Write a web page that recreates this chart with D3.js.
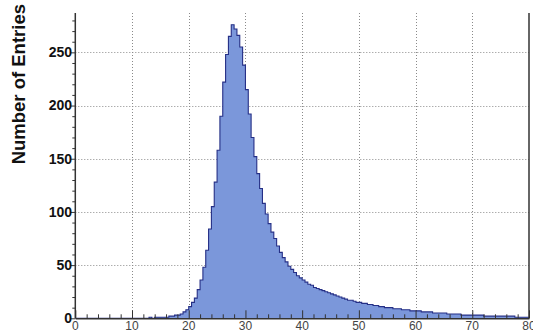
<!DOCTYPE html>
<html>
<head>
<meta charset="utf-8">
<script src="https://cdn.jsdelivr.net/npm/d3@7"></script>
<style>
  body { margin: 0; background: #fff; }
  svg { display: block; }
</style>
</head>
<body>
<div id="chart"></div>
<script>
// Histogram: 160 bins of width 0.5 from 0 to 80
const binWidth = 0.5;
const counts = [
  0,0,0,0,0,0,0,0,0,0, 0,0,0,0,0,0,0,0,0,0,   // 0 - 10
  0,0,0,0,0,0,1,0,1,1, 1,1,1,2,2,3,3,4,6,8,   // 10 - 20
  11,15,19,27,36,48,64,84,105,128, 158,190,222,248,265,276,272,266,255,238,  // 20 - 30
  215,192,170,152,136,122,108,98,89,81, 75,68,62,57,53,49,46,43,40,38,   // 30 - 40
  36,34,32,31,29,28,27,26,25,24, 23,22,21,20,19,18,17,17,16,15,   // 40 - 50
  15,14,14,13,13,12,12,11,11,10, 10,10,9,9,9,8,8,8,7,7,   // 50 - 60
  7,7,6,6,6,6,5,5,5,5, 5,4,4,4,4,4,3,3,3,3,   // 60 - 70
  3,3,3,3,2,2,2,2,2,2, 2,2,2,2,2,1,1,1,1,1    // 70 - 80
];
const xTicks = [0, 10, 20, 30, 40, 50, 60, 70, 80];
const yTicks = [0, 50, 100, 150, 200, 250];
const yLabel = "Number of Entries";

const width = 533, height = 332;
const plotLeft = 75.3, plotRight = 529, plotTop = 13, plotBottom = 318.3;

const svg = d3.select("#chart").append("svg")
  .attr("width", width)
  .attr("height", height);

const x = d3.scaleLinear().domain([0, 80]).range([plotLeft, plotRight]);
const y = d3.scaleLinear().domain([0, 287]).range([plotBottom, plotTop]);

// Grid
const grid = svg.append("g")
  .attr("stroke", "#8a8a8a")
  .attr("stroke-width", 1)
  .attr("stroke-dasharray", "1,2");

grid.selectAll(".vg")
  .data(xTicks.filter(d => d > 0 && d < 80))
  .enter().append("line")
  .attr("x1", d => Math.round(x(d)) + 0.5)
  .attr("x2", d => Math.round(x(d)) + 0.5)
  .attr("y1", plotTop)
  .attr("y2", plotBottom);

grid.selectAll(".hg")
  .data(yTicks.filter(d => d > 0))
  .enter().append("line")
  .attr("x1", plotLeft)
  .attr("x2", plotRight)
  .attr("y1", d => Math.round(y(d)) + 0.5)
  .attr("y2", d => Math.round(y(d)) + 0.5);

// Histogram
const bins = counts.map((c, i) => ({ x0: i * binWidth, v: c }));
bins.push({ x0: counts.length * binWidth, v: counts[counts.length - 1] });

const area = d3.area()
  .x(d => x(d.x0))
  .y0(y(0))
  .y1(d => y(d.v))
  .curve(d3.curveStepAfter);

const line = d3.line()
  .x(d => x(d.x0))
  .y(d => y(d.v))
  .curve(d3.curveStepAfter);

svg.append("path")
  .datum(bins)
  .attr("d", area)
  .attr("fill", "#7b97da");

svg.append("path")
  .datum(bins)
  .attr("d", line)
  .attr("fill", "none")
  .attr("stroke", "#252f86")
  .attr("stroke-width", 1.1);

// Axes
const xAxis = d3.axisBottom(x)
  .tickValues(d3.range(0, 81, 2))
  .tickSize(0)
  .tickFormat("");

const gx = svg.append("g")
  .attr("transform", `translate(0, ${plotBottom})`)
  .call(xAxis);
gx.select(".domain").attr("stroke", "#333").attr("stroke-width", 1.5);
gx.selectAll(".tick line")
  .attr("stroke", "#333")
  .attr("y2", d => d % 10 === 0 ? -8 : -4);

svg.selectAll(".xl")
  .data(xTicks)
  .enter().append("text")
  .attr("x", d => x(d))
  .attr("y", 330)
  .attr("text-anchor", "middle")
  .attr("font-family", "Liberation Sans, Arial, sans-serif")
  .attr("font-size", 12)
  .attr("fill", "#444")
  .text(d => d);

const yAxis = d3.axisLeft(y)
  .tickValues(d3.range(0, 281, 10))
  .tickSize(0)
  .tickFormat("");

const gy = svg.append("g")
  .attr("transform", `translate(${plotLeft}, 0)`)
  .call(yAxis);
gy.select(".domain").attr("stroke", "#333").attr("stroke-width", 1.5)
  .attr("d", `M0,${plotTop}V${plotBottom}`);
gy.selectAll(".tick line")
  .attr("stroke", "#333")
  .attr("x2", d => d % 50 === 0 ? -5 : -3);

svg.selectAll(".yl")
  .data(yTicks)
  .enter().append("text")
  .attr("x", 72)
  .attr("y", d => y(d))
  .attr("dy", "0.35em")
  .attr("text-anchor", "end")
  .attr("font-family", "Liberation Sans, Arial, sans-serif")
  .attr("font-weight", "bold")
  .attr("font-size", 14)
  .attr("fill", "#111")
  .text(d => d);

// Right frame line
svg.append("line")
  .attr("x1", plotRight).attr("x2", plotRight)
  .attr("y1", plotTop).attr("y2", plotBottom)
  .attr("stroke", "#333")
  .attr("stroke-width", 1.5);

// Y title
svg.append("text")
  .attr("transform", `translate(25, 4) rotate(-90)`)
  .attr("text-anchor", "end")
  .attr("font-family", "Liberation Sans, Arial, sans-serif")
  .attr("font-weight", "bold")
  .attr("font-size", 18.5)
  .attr("fill", "#111")
  .text(yLabel);
</script>
</body>
</html>
